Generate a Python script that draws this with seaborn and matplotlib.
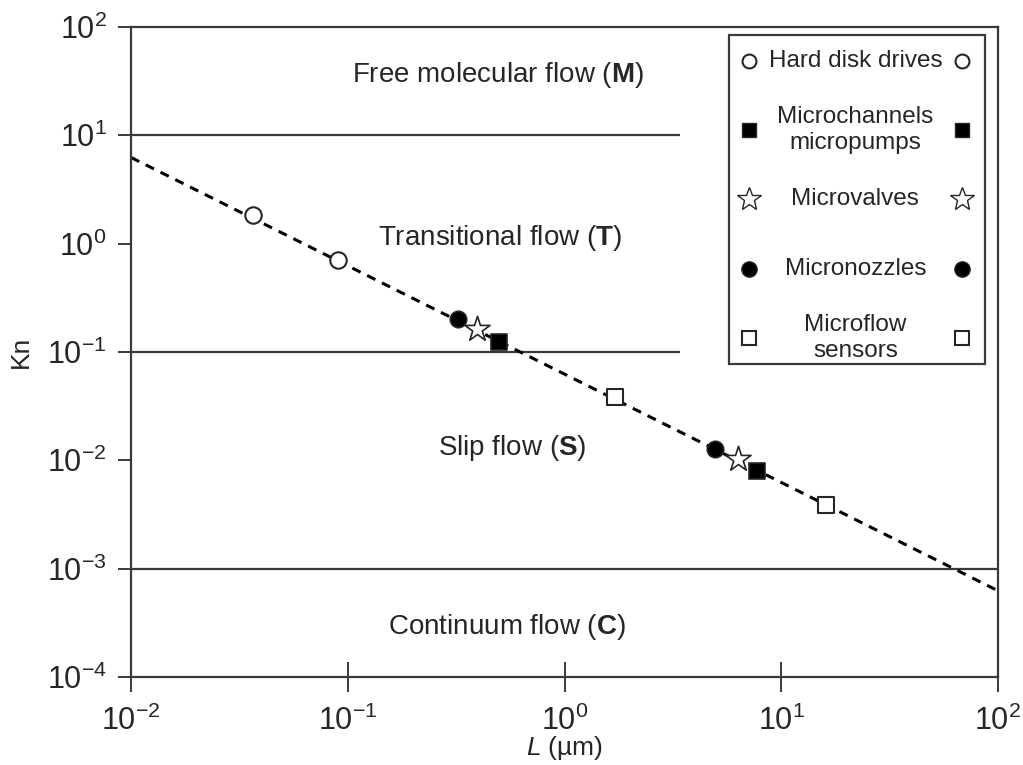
import matplotlib
matplotlib.use("Agg")
import matplotlib.pyplot as plt
import seaborn as sns
import pandas as pd
from matplotlib.legend_handler import HandlerBase
from matplotlib.lines import Line2D
from matplotlib.text import Text
from matplotlib.ticker import LogLocator, NullLocator, LogFormatterSciNotation

# ---------------- data ----------------
hdd_L = [0.0366, 0.0902]
hdd_Kn = [1.82, 0.711]
mchan_L = [0.499, 7.73]
mchan_Kn = [0.124, 0.0079]
mvalve_L = [0.395, 6.31]
mvalve_Kn = [0.163, 0.0102]
mnozzle_L = [0.323, 4.94]
mnozzle_Kn = [0.202, 0.01265]
msensor_L = [1.71, 16.1]
msensor_Kn = [0.0383, 0.0039]

trend_L = [0.01, 100.0]
trend_Kn = [6.25, 6.25e-4]

regime_bounds = [10.0, 0.1, 0.001]
regime_bound_end = [3.4, 3.4, 100.0]
regime_names = ["Free molecular flow", "Transitional flow", "Slip flow", "Continuum flow"]
regime_codes = ["M", "T", "S", "C"]

legend_labels = ["Hard disk drives", "Microchannels\nmicropumps", "Microvalves",
                 "Micronozzles", "Microflow\nsensors"]

# ---------------- style ----------------
sns.set_style("white")
plt.rcParams["font.family"] = ["Liberation Sans", "DejaVu Sans"]
plt.rcParams["mathtext.fontset"] = "custom"
plt.rcParams["mathtext.rm"] = "Liberation Sans"
plt.rcParams["mathtext.it"] = "Liberation Sans:italic"
plt.rcParams["mathtext.bf"] = "Liberation Sans:bold"
plt.rcParams["mathtext.sf"] = "Liberation Sans"

INK = "#262626"
AX = "#3a3a3a"

fig = plt.figure(figsize=(10.23, 7.65), dpi=100)
ax = fig.add_axes([131 / 1023, 88 / 765, 867 / 1023, 650 / 765])
ax.set_xscale("log")
ax.set_yscale("log")

# regime boundaries
ax.hlines(regime_bounds, [0.01] * len(regime_bounds), regime_bound_end,
          colors=AX, linewidth=1.6, zorder=1)

# trend line
sns.lineplot(x=trend_L, y=trend_Kn, ax=ax, color="black", linewidth=2.2,
             linestyle=(0, (3.0, 2.4)), zorder=2, legend=False)

# data markers
series = [
    (hdd_L, hdd_Kn, "o", "white", 140, 1.5),
    (mchan_L, mchan_Kn, "s", "black", 125, 1.2),
    (mvalve_L, mvalve_Kn, "*", "white", 360, 1.2),
    (mnozzle_L, mnozzle_Kn, "o", "black", 140, 1.2),
    (msensor_L, msensor_Kn, "s", "white", 125, 1.5),
]
for L, Kn, mk, fc, s, lw in series:
    df = pd.DataFrame({"L": L, "Kn": Kn})
    sns.scatterplot(data=df, x="L", y="Kn", ax=ax, marker=mk, s=s,
                    facecolor=fc, edgecolor=INK, linewidth=lw, zorder=3, legend=False)

ax.set_xlim(1e-2, 1e2)
ax.set_ylim(1e-4, 1e2)
ax.xaxis.set_major_locator(LogLocator(base=10, numticks=10))
ax.yaxis.set_major_locator(LogLocator(base=10, numticks=10))
ax.xaxis.set_major_formatter(LogFormatterSciNotation())
ax.yaxis.set_major_formatter(LogFormatterSciNotation())
ax.xaxis.set_minor_locator(NullLocator())
ax.yaxis.set_minor_locator(NullLocator())

for sp in ax.spines.values():
    sp.set_color(AX)
    sp.set_linewidth(1.6)

ax.tick_params(axis="x", which="major", bottom=True, direction="inout", length=21,
               width=1.4, color=AX, labelsize=22, labelcolor=INK, pad=10)
ax.tick_params(axis="y", which="major", left=True, direction="out", length=9.5,
               width=1.4, color=AX, labelsize=22, labelcolor=INK, pad=8)

ax.set_xlabel("$L$ (µm)", fontsize=19, color=INK, labelpad=-2)
ax.set_ylabel("Kn", fontsize=19, color=INK, labelpad=10)

# regime labels
regime_pos = [(0.423, 0.926), (0.426, 0.676), (0.44, 0.352), (0.434, 0.077)]
for name, code, (px, py) in zip(regime_names, regime_codes, regime_pos):
    ax.text(px, py, f"{name} ($\\mathbf{{{code}}}$)", transform=ax.transAxes,
            ha="center", va="center", fontsize=20, color=INK)


# ---------------- legend: marker on both sides of a centred label ----------------
class BothSides(HandlerBase):
    def __init__(self, text, left=12.5, right=15.0, **kw):
        super().__init__(**kw)
        self.text = text
        self.left = left
        self.right = right

    def create_artists(self, legend, orig, xdescent, ydescent, width, height,
                       fontsize, trans):
        y = (height - ydescent) / 2.0
        x0 = -xdescent + self.left
        x1 = -xdescent + width - self.right
        arts = []
        for x in (x0, x1):
            arts.append(Line2D([x], [y], linestyle="none", marker=orig.get_marker(),
                               markersize=orig.get_markersize(),
                               markerfacecolor=orig.get_markerfacecolor(),
                               markeredgecolor=orig.get_markeredgecolor(),
                               markeredgewidth=orig.get_markeredgewidth(),
                               transform=trans))
        arts.append(Text((x0 + x1) / 2.0, y, self.text, ha="center", va="center",
                         multialignment="center", fontsize=fontsize, color=INK,
                         linespacing=1.2, transform=trans))
        return arts


leg_styles = [("o", "white", 10, 1.5), ("s", "black", 9.5, 1.0), ("*", "white", 18, 1.0),
              ("o", "black", 11, 1.0), ("s", "white", 9.5, 1.5)]
handles = [Line2D([], [], linestyle="none", marker=m, markerfacecolor=fc,
                  markeredgecolor=INK, markersize=ms, markeredgewidth=mew)
           for m, fc, ms, mew in leg_styles]
hmap = {h: BothSides(t) for h, t in zip(handles, legend_labels)}

fs_leg = 17.5
leg = ax.legend(handles=handles, labels=["\n"] * len(handles), handler_map=hmap,
                loc="upper right", bbox_to_anchor=(0.985, 0.988),
                bbox_transform=ax.transAxes, borderaxespad=0, borderpad=0.1,
                handlelength=251 * 0.72 / fs_leg, handletextpad=0, labelspacing=0.9,
                fontsize=fs_leg, frameon=True, fancybox=False, framealpha=1,
                edgecolor=AX)
leg.get_frame().set_linewidth(1.6)

fig.savefig("out.png", dpi=100)
